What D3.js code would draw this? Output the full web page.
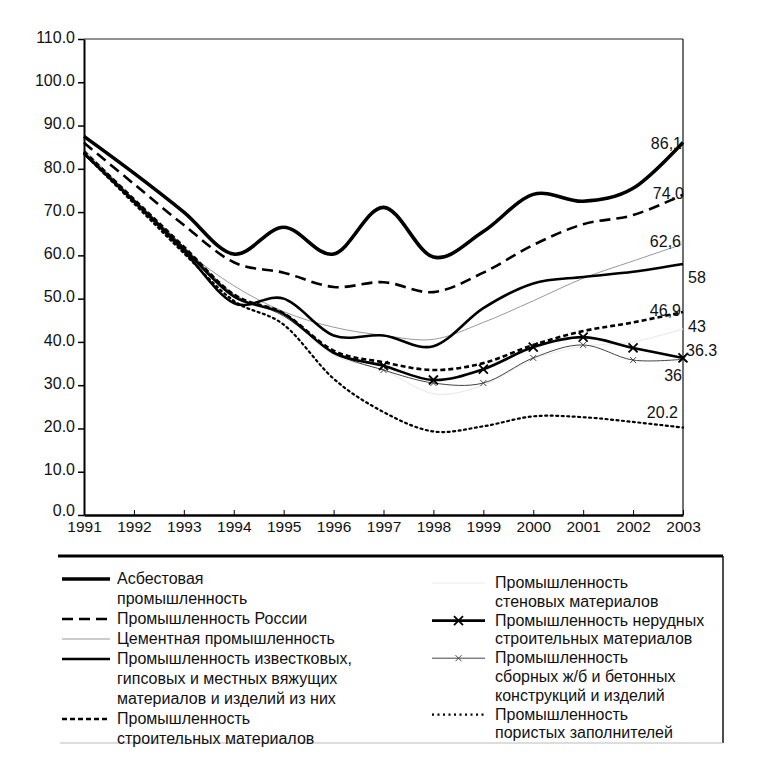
<!DOCTYPE html>
<html><head><meta charset="utf-8">
<script src="https://cdn.jsdelivr.net/npm/d3@7"></script>
<style>body{margin:0;background:#fff}svg{display:block}text{font-family:"Liberation Sans",Arial,sans-serif;fill:#111}</style>
</head><body><svg id="c" width="762" height="781"></svg>
<script>
const years = [1991,1992,1993,1994,1995,1996,1997,1998,1999,2000,2001,2002,2003];
const yTicks = [0,10,20,30,40,50,60,70,80,90,100,110];
const asbestos    = [87.5,79,70,60.3,66.5,60.3,71.1,59.6,65.5,74.1,72.5,75.5,86.1];
const russia      = [86,76.5,67,58.4,56,52.7,53.8,51.5,56,62.4,67.2,69.3,74.0];
const cement      = [84.5,73,61.5,53,47,43.4,41.5,40.6,44.5,49.5,54.7,58.7,62.6];
const lime        = [83.5,72.5,61,49,50,41.5,41.5,39,47.8,53.5,55,56.2,58];
const building    = [84,73,62,51,46.6,38,35.3,33.5,35.1,39.3,42.5,44.5,46.9];
const wall        = [84,73,62,51,46,37,33.5,28,30,36,39,40,43];
const nonmetallic = [83.5,72.5,61.5,50.5,46.5,37.5,34.5,31.2,33.7,38.8,41.1,38.6,36.3];
const precast     = [84,73,62,51,46,37.5,33.5,30.5,30.5,36.3,39.3,35.8,36];
const pore        = [83.5,72,60.5,49.5,44,31.5,23.8,19.3,20.5,22.8,22.6,21.5,20.2];
const endLabels = ["86,1","74,0","62,6","58","46,9","43","36.3","36","20.2"];
const legendLeft = [
  ["Асбестовая","промышленность"],
  ["Промышленность России"],
  ["Цементная промышленность"],
  ["Промышленность известковых,","гипсовых и местных вяжущих","материалов и изделий из них"],
  ["Промышленность","строительных материалов"]];
const legendRight = [
  ["Промышленность","стеновых материалов"],
  ["Промышленность нерудных","строительных материалов"],
  ["Промышленность","сборных ж/б и бетонных","конструкций и изделий"],
  ["Промышленность","пористых заполнителей"]];

const styles = {
  asbestos:{c:"#000",w:3.6,d:null},
  russia:{c:"#000",w:2.6,d:"11,6"},
  cement:{c:"#999",w:1,d:null},
  lime:{c:"#000",w:2.6,d:null},
  building:{c:"#000",w:2.6,d:"5,3"},
  wall:{c:"#ececec",w:1.2,d:null},
  nonmetallic:{c:"#000",w:2.6,d:null,m:9},
  precast:{c:"#444",w:1,d:null,m:6},
  pore:{c:"#000",w:2.2,d:"2,3.5"}
};
const series = [
  {k:"wall",v:wall,lab:endLabels[5],lx:688,ly:332,anchor:"start"},
  {k:"cement",v:cement,lab:endLabels[2],lx:681,ly:247,anchor:"end"},
  {k:"precast",v:precast,lab:endLabels[7],lx:682,ly:381,anchor:"end"},
  {k:"pore",v:pore,lab:endLabels[8],lx:678,ly:418,anchor:"end"},
  {k:"building",v:building,lab:endLabels[4],lx:681,ly:316,anchor:"end"},
  {k:"nonmetallic",v:nonmetallic,lab:endLabels[6],lx:686,ly:356,anchor:"start"},
  {k:"lime",v:lime,lab:endLabels[3],lx:688,ly:283,anchor:"start"},
  {k:"russia",v:russia,lab:endLabels[1],lx:684,ly:199,anchor:"end"},
  {k:"asbestos",v:asbestos,lab:endLabels[0],lx:682,ly:149,anchor:"end"}
];

const svg = d3.select("#c");
const L=84,R=683,T=39,B=515;
const x = d3.scalePoint().domain(years).range([L,R]);
const y = d3.scaleLinear().domain([0,110]).range([B,T]);

// frame
svg.append("line").attr("x1",L).attr("x2",R).attr("y1",T).attr("y2",T).attr("stroke","#222").attr("stroke-width",1);
svg.append("line").attr("x1",R).attr("x2",R).attr("y1",T).attr("y2",B).attr("stroke","#111").attr("stroke-width",1.2);

const line = d3.line().x((d,i)=>x(years[i])).y(d=>y(d)).curve(d3.curveCatmullRom.alpha(0));
const g = svg.append("g");
series.forEach(s=>{
  const st = styles[s.k];
  g.append("path").attr("d",line(s.v)).attr("fill","none").attr("stroke",st.c)
   .attr("stroke-width",st.w).attr("stroke-dasharray",st.d).attr("stroke-linecap",s.k==="pore"?"round":"butt");
  if(st.m){
    const h=st.m/2;
    s.v.forEach((v,i)=>{ if(years[i]<1997) return;
      const cx=x(years[i]), cy=y(v);
      g.append("path").attr("d",`M${cx-h},${cy-h}L${cx+h},${cy+h}M${cx-h},${cy+h}L${cx+h},${cy-h}`)
        .attr("stroke",st.c).attr("stroke-width",st.w>2?1.8:1).attr("fill","none");
    });
  }
  svg.append("text").attr("x",s.lx).attr("y",s.ly).attr("text-anchor",s.anchor).attr("font-size",16).text(s.lab);
});

// axes
const ya = svg.append("g").attr("transform",`translate(${L},0)`).call(d3.axisLeft(y).tickValues(yTicks).tickFormat(d3.format(".1f")).tickSize(6).tickSizeOuter(0));
ya.select(".domain").attr("stroke","#000").attr("stroke-width",2);
ya.selectAll(".tick line").attr("stroke","#000").attr("stroke-width",1.5);
ya.selectAll("text").attr("font-size",16).attr("font-family","Liberation Sans, Arial, sans-serif").attr("fill","#111")
  .attr("dy",d=>d===0?"0em":"0.2em");
const xa = svg.append("g").attr("transform",`translate(0,${B})`).call(d3.axisBottom(x).tickSize(-5).tickSizeOuter(0).tickPadding(8));
xa.select(".domain").attr("stroke","#000").attr("stroke-width",2.6);
xa.selectAll(".tick line").attr("stroke","#000").attr("stroke-width",1);
xa.selectAll("text").attr("font-size",15.5).attr("font-family","Liberation Sans, Arial, sans-serif").attr("fill","#111").attr("dy","0.6em");

// legend box
svg.append("line").attr("x1",58).attr("x2",723).attr("y1",556).attr("y2",556).attr("stroke","#000").attr("stroke-width",3);
svg.append("line").attr("x1",723).attr("x2",723).attr("y1",556).attr("y2",743).attr("stroke","#111").attr("stroke-width",1.5);
svg.append("line").attr("x1",60).attr("x2",723).attr("y1",743).attr("y2",743).attr("stroke","#bbb").attr("stroke-width",1);

function legendCol(items, keys, x0, x1, tx, y0, lh){
  let li=0;
  items.forEach((lines,idx)=>{
    const st = styles[keys[idx]];
    const cy = y0 + li*lh;
    const sy = cy - 5;
    svg.append("line").attr("x1",x0).attr("x2",x1).attr("y1",sy).attr("y2",sy).attr("stroke",st.c)
      .attr("stroke-width",st.w).attr("stroke-dasharray",st.d);
    if(st.m){ const cx=(x0+x1)/2, h=st.m/2;
      svg.append("path").attr("d",`M${cx-h},${sy-h}L${cx+h},${sy+h}M${cx-h},${sy+h}L${cx+h},${sy-h}`).attr("stroke",st.c).attr("stroke-width",st.w>2?1.8:1);
    }
    lines.forEach(t=>{
      svg.append("text").attr("x",tx).attr("y",y0+li*lh).attr("font-size",16).text(t);
      li++;
    });
  });
}
legendCol(legendLeft,["asbestos","russia","cement","lime","building"],62,110,117,584,20);
legendCol(legendRight,["wall","nonmetallic","precast","pore"],432,485,495,588,18.8);
</script></body></html>
